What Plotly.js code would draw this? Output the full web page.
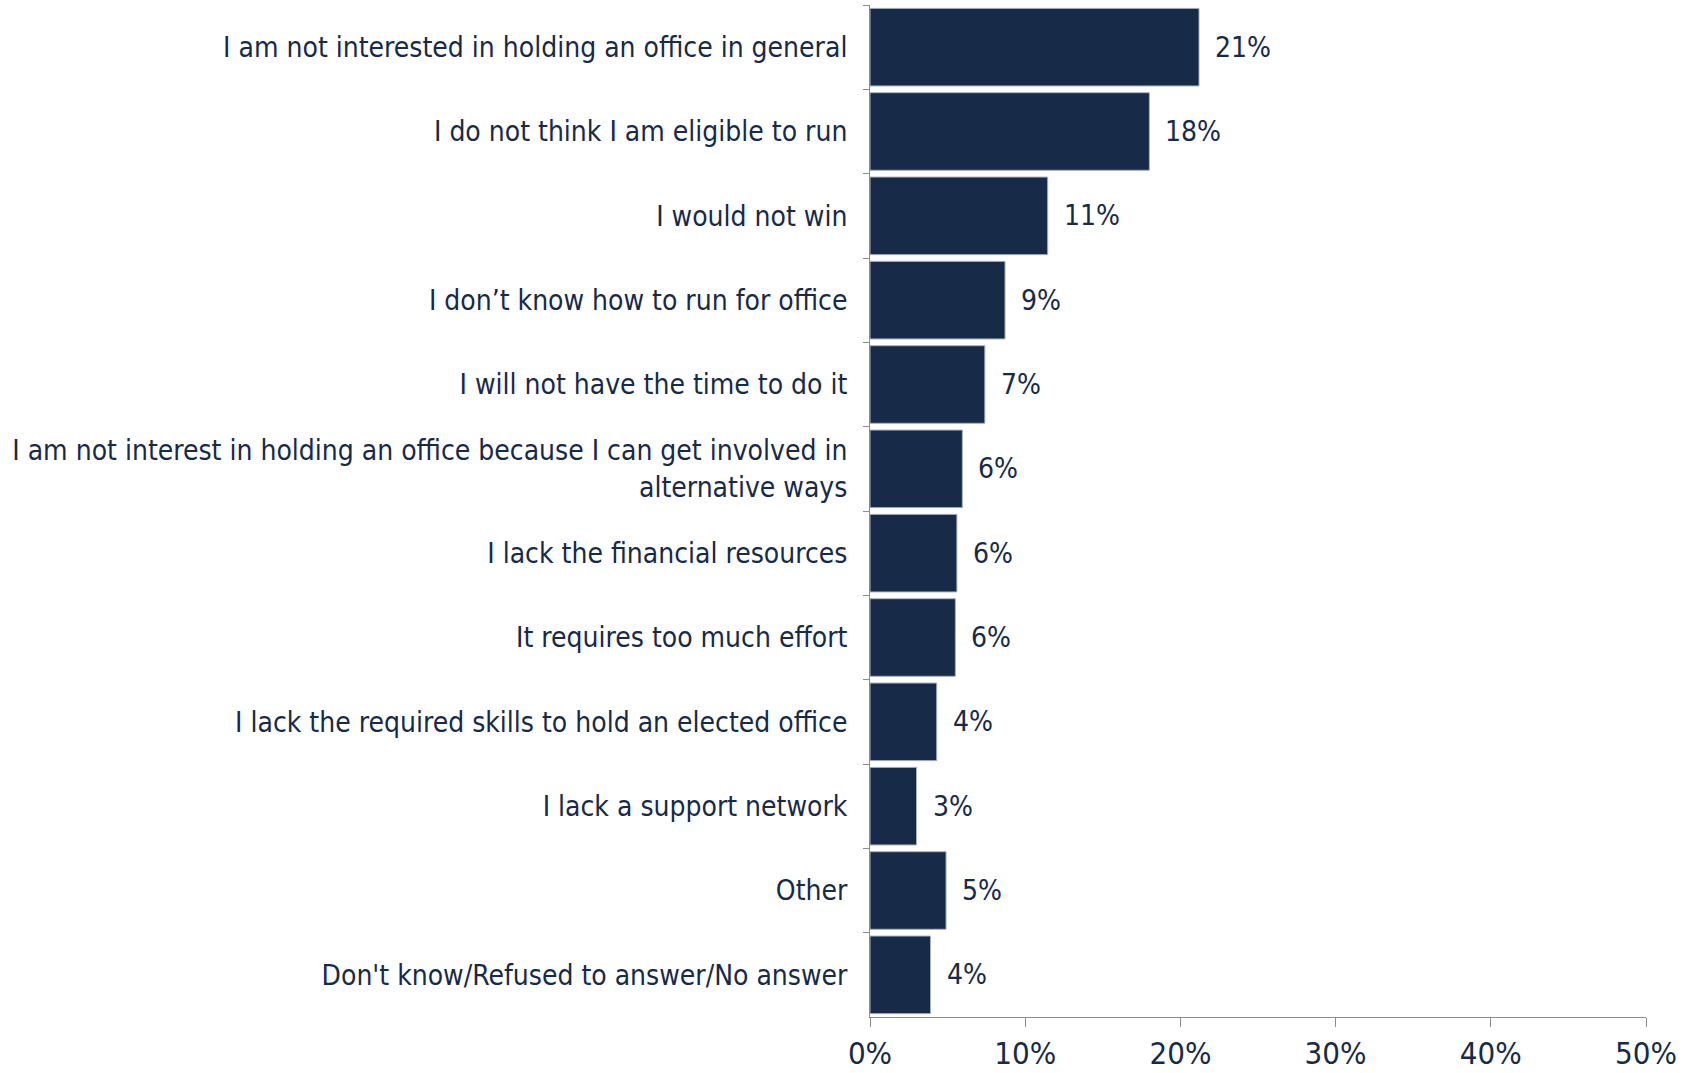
<!DOCTYPE html>
<html>
<head>
<meta charset="utf-8">
<script src="https://cdn.plot.ly/plotly-3.0.1.min.js"></script>
<style>
html,body{margin:0;padding:0;background:#fff;}
#chart{width:1684px;height:1073px;}
</style>
</head>
<body>
<div id="chart"></div>
<script>
const categories = [
  "I am not interested in holding an office in general",
  "I do not think I am eligible to run",
  "I would not win",
  "I don\u2019t know how to run for office",
  "I will not have the time to do it",
  "I am not interest in holding an office because I can get involved in<br>alternative ways",
  "I lack the financial resources",
  "It requires too much effort",
  "I lack the required skills to hold an elected office",
  "I lack a support network",
  "Other",
  "Don't know/Refused to answer/No answer"
];
const values = [21.2, 18.0, 11.45, 8.7, 7.4, 5.95, 5.6, 5.5, 4.3, 3.0, 4.9, 3.9];
const valueLabels = ["21%", "18%", "11%", "9%", "7%", "6%", "6%", "6%", "4%", "3%", "5%", "4%"];
const xTickVals = [0, 10, 20, 30, 40, 50];
const xTickText = ["0%", "10%", "20%", "30%", "40%", "50%"];

const navy = "#172a48";
const axisGray = "#8c8c8c";
const narrow = "'DejaVu Sans Condensed', 'Liberation Sans Narrow', Arial, sans-serif";

const trace = {
  type: "bar",
  orientation: "h",
  y: categories,
  x: values,
  marker: {color: navy, line: {color: "#aab2c0", width: 1}},
  width: 0.92,
  hoverinfo: "none"
};

const annotations = categories.map((c, i) => ({
  x: values[i], y: c, xref: "x", yref: "y",
  text: valueLabels[i], showarrow: false,
  xanchor: "left", yanchor: "middle", xshift: 14,
  font: {family: narrow, size: 28, color: navy}
}));

const layout = {
  width: 1684, height: 1073,
  margin: {l: 870, r: 38, t: 5, b: 56},
  paper_bgcolor: "#fff", plot_bgcolor: "#fff",
  showlegend: false,
  bargap: 0.08,
  xaxis: {
    range: [0, 50], tickvals: xTickVals, ticktext: xTickText,
    showgrid: false, zeroline: false,
    showline: true, linecolor: axisGray, linewidth: 1,
    ticks: "outside", ticklen: 9, tickcolor: axisGray,
    tickfont: {family: narrow, size: 31, color: navy}
  },
  yaxis: {
    type: "category", autorange: "reversed",
    showgrid: false, zeroline: false,
    showline: true, linecolor: axisGray, linewidth: 1,
    ticks: "outside", tickson: "boundaries", ticklen: 6, tickcolor: axisGray,
    ticklabelstandoff: 16,
    tickfont: {family: narrow, size: 28, color: navy}
  },
  annotations: annotations
};

Plotly.newPlot("chart", [trace], layout, {staticPlot: true, displayModeBar: false});
</script>
</body>
</html>
